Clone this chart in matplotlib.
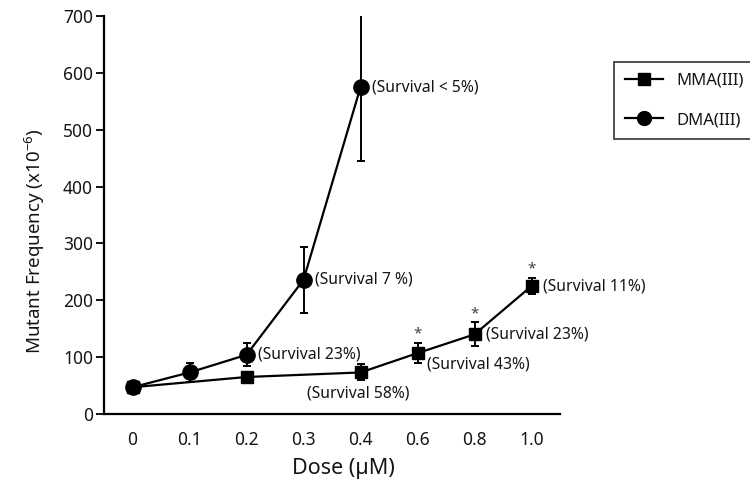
import matplotlib
matplotlib.use("Agg")
import matplotlib.pyplot as plt
from matplotlib.lines import Line2D
import numpy as np

plt.rcParams['font.family'] = ['Noto Sans', 'DejaVu Sans']
plt.rcParams['mathtext.fontset'] = 'custom'
plt.rcParams['mathtext.rm'] = 'Noto Sans'

doses = ["0", "0.1", "0.2", "0.3", "0.4", "0.6", "0.8", "1.0"]

# MMA(III) (squares) at doses 0, 0.2, 0.4, 0.6, 0.8, 1.0
mma_doses = ["0", "0.2", "0.4", "0.6", "0.8", "1.0"]
mma_vals = [47, 65, 73, 107, 140, 225]
mma_err = [4, 8, 14, 18, 21, 14]

# DMA(III) (circles) at doses 0..0.4
dma_doses = ["0", "0.1", "0.2", "0.3", "0.4"]
dma_vals = [47, 73, 104, 236, 575]
dma_err = [4, 16, 20, 58, 130]

dma_labels = ["", "", "(Survival 23%)", "(Survival 7 %)", "(Survival < 5%)"]
mma_labels = ["", "", "(Survival 58%)", "(Survival 43%)", "(Survival 23%)", "(Survival 11%)"]
mma_stars = [False, False, False, True, True, True]

pos = {d: i for i, d in enumerate(doses)}
mx = [pos[d] for d in mma_doses]
dx = [pos[d] for d in dma_doses]

fig = plt.figure(figsize=(7.5, 4.87), dpi=100)
ax = fig.add_axes([0.1387, 0.15, 0.608, 0.817])

ax.errorbar(mx, mma_vals, yerr=mma_err, color='black', marker='s', markersize=8.5,
            linewidth=1.6, elinewidth=1.4, capsize=3, capthick=1.4, zorder=3)
ax.errorbar(dx, dma_vals, yerr=dma_err, color='black', marker='o', markersize=11,
            linewidth=1.6, elinewidth=1.4, capsize=3, capthick=1.4, zorder=3)

fs = 11.3
tc = '#151515'
for x, v, t in zip(dx, dma_vals, dma_labels):
    if t:
        ax.annotate(t, (x, v), xytext=(8, 0), textcoords='offset points',
                    ha='left', va='center', fontsize=fs, color=tc)
for i, (x, v, e, t, s) in enumerate(zip(mx, mma_vals, mma_err, mma_labels, mma_stars)):
    if not t:
        continue
    if mma_doses[i] == "0.4":
        ax.annotate(t, (x, v), xytext=(-2, -15), textcoords='offset points',
                    ha='center', va='center', fontsize=fs, color=tc)
    elif mma_doses[i] == "0.6":
        ax.annotate(t, (x, v), xytext=(7, -8), textcoords='offset points',
                    ha='left', va='center', fontsize=fs, color=tc)
    else:
        ax.annotate(t, (x, v), xytext=(8, 0), textcoords='offset points',
                    ha='left', va='center', fontsize=fs, color=tc)
    if s:
        ax.annotate('*', (x, v + e), xytext=(0, 1), textcoords='offset points',
                    ha='center', va='bottom', fontsize=11, color='#444444')

ax.set_xlim(-0.5, 7.5)
ax.set_ylim(0, 700)
ax.set_xticks(range(len(doses)))
ax.set_xticklabels(doses)
ax.set_yticks(np.arange(0, 701, 100))
ax.tick_params(axis='x', length=0, labelsize=12.5, pad=12, labelcolor=tc)
ax.tick_params(axis='y', length=6, width=1.3, labelsize=12.5, pad=2, direction='out', labelcolor=tc)
for sp in ['top', 'right']:
    ax.spines[sp].set_visible(False)
for sp in ['left', 'bottom']:
    ax.spines[sp].set_linewidth(1.6)

ax.set_xlabel('Dose (µM)', fontsize=15.5, color=tc)
ax.xaxis.set_label_coords(0.524, -0.11)
ax.set_ylabel('Mutant Frequency (x10$^{\\mathregular{-6}}$)', fontsize=13.5, color=tc)
ax.yaxis.set_label_coords(-0.125, 0.434)

h = [Line2D([], [], color='black', marker='s', markersize=8, linewidth=1.6),
     Line2D([], [], color='black', marker='o', markersize=10, linewidth=1.6)]
l = ['MMA(III)', 'DMA(III)']
leg = fig.legend(h, l, loc='upper left', bbox_to_anchor=(0.8187, 0.8727), fontsize=12,
                 frameon=True, fancybox=False, edgecolor='black', borderpad=0.66,
                 borderaxespad=0, labelspacing=1.39, handlelength=2.3, handletextpad=0.8)
for t in leg.get_texts():
    t.set_color(tc)
leg.get_frame().set_linewidth(1.2)

fig.savefig('out.png', dpi=100)
